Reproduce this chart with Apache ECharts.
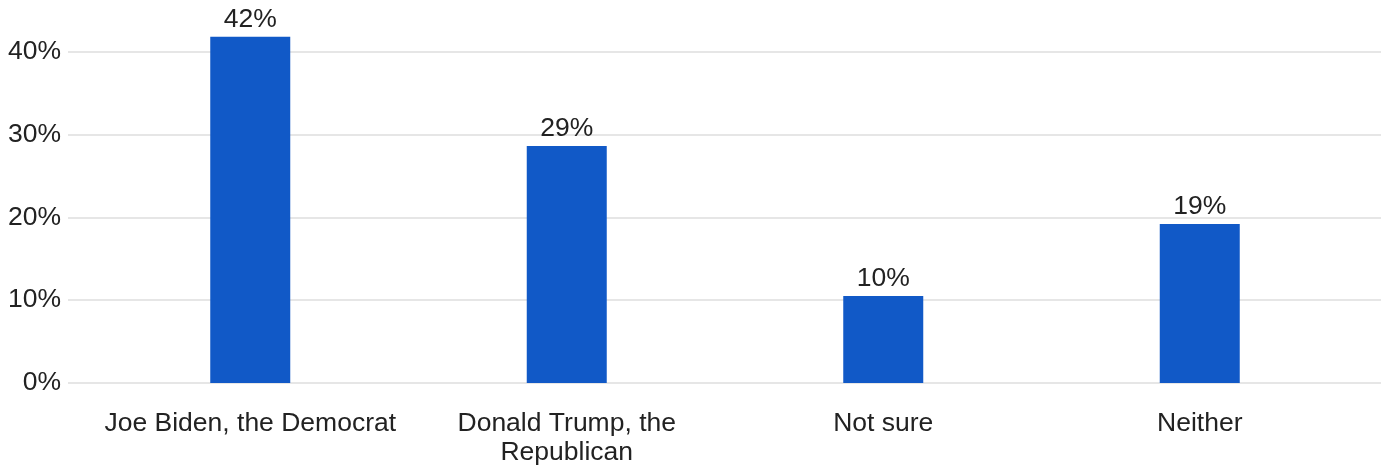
<!DOCTYPE html>
<html><head><meta charset="utf-8">
<script src="https://cdn.jsdelivr.net/npm/echarts@6/dist/echarts.min.js"></script>
<style>html,body{margin:0;padding:0;background:#fff}#c{width:1387px;height:468px}</style>
</head><body><div id="c"></div>
<script>
const categories = ["Joe Biden, the Democrat", "Donald Trump, the\nRepublican", "Not sure", "Neither"];
const values = [41.8, 28.6, 10.5, 19.2];
const valueLabels = ["42%", "29%", "10%", "19%"];
const yTicks = [0, 10, 20, 30, 40];

const font = "'Liberation Sans', Arial, sans-serif";
const chart = echarts.init(document.getElementById('c'));
chart.setOption({
  animation: false,
  grid: [
    {left: 68, right: 6, top: 51.7, bottom: 85},
    {left: 92, right: 29, top: 51.7, bottom: 85}
  ],
  xAxis: [
    {gridIndex: 0, type: 'category', data: categories, show: false},
    {gridIndex: 1, type: 'category', data: categories,
     axisLine: {show: false}, axisTick: {show: false},
     axisLabel: {fontSize: 26.5, color: '#222', fontFamily: font, margin: 26, lineHeight: 29, interval: 0}}
  ],
  yAxis: [
    {gridIndex: 0, type: 'value', min: yTicks[0], max: yTicks[yTicks.length-1], interval: 10,
     axisLine: {show: false}, axisTick: {show: false},
     splitLine: {lineStyle: {color: '#e6e6e6', width: 2}},
     axisLabel: {fontSize: 26.5, color: '#222', fontFamily: font, margin: 7, formatter: v => v + '%'}},
    {gridIndex: 1, type: 'value', min: yTicks[0], max: yTicks[yTicks.length-1], interval: 10, show: false}
  ],
  series: [{
    type: 'bar', xAxisIndex: 1, yAxisIndex: 1, data: values, barWidth: 80, clip: false,
    itemStyle: {color: '#1159c7'},
    label: {show: true, position: 'top', distance: 4, fontSize: 26.5, color: '#222', fontFamily: font,
      formatter: p => valueLabels[p.dataIndex]}
  }]
});
</script></body></html>
